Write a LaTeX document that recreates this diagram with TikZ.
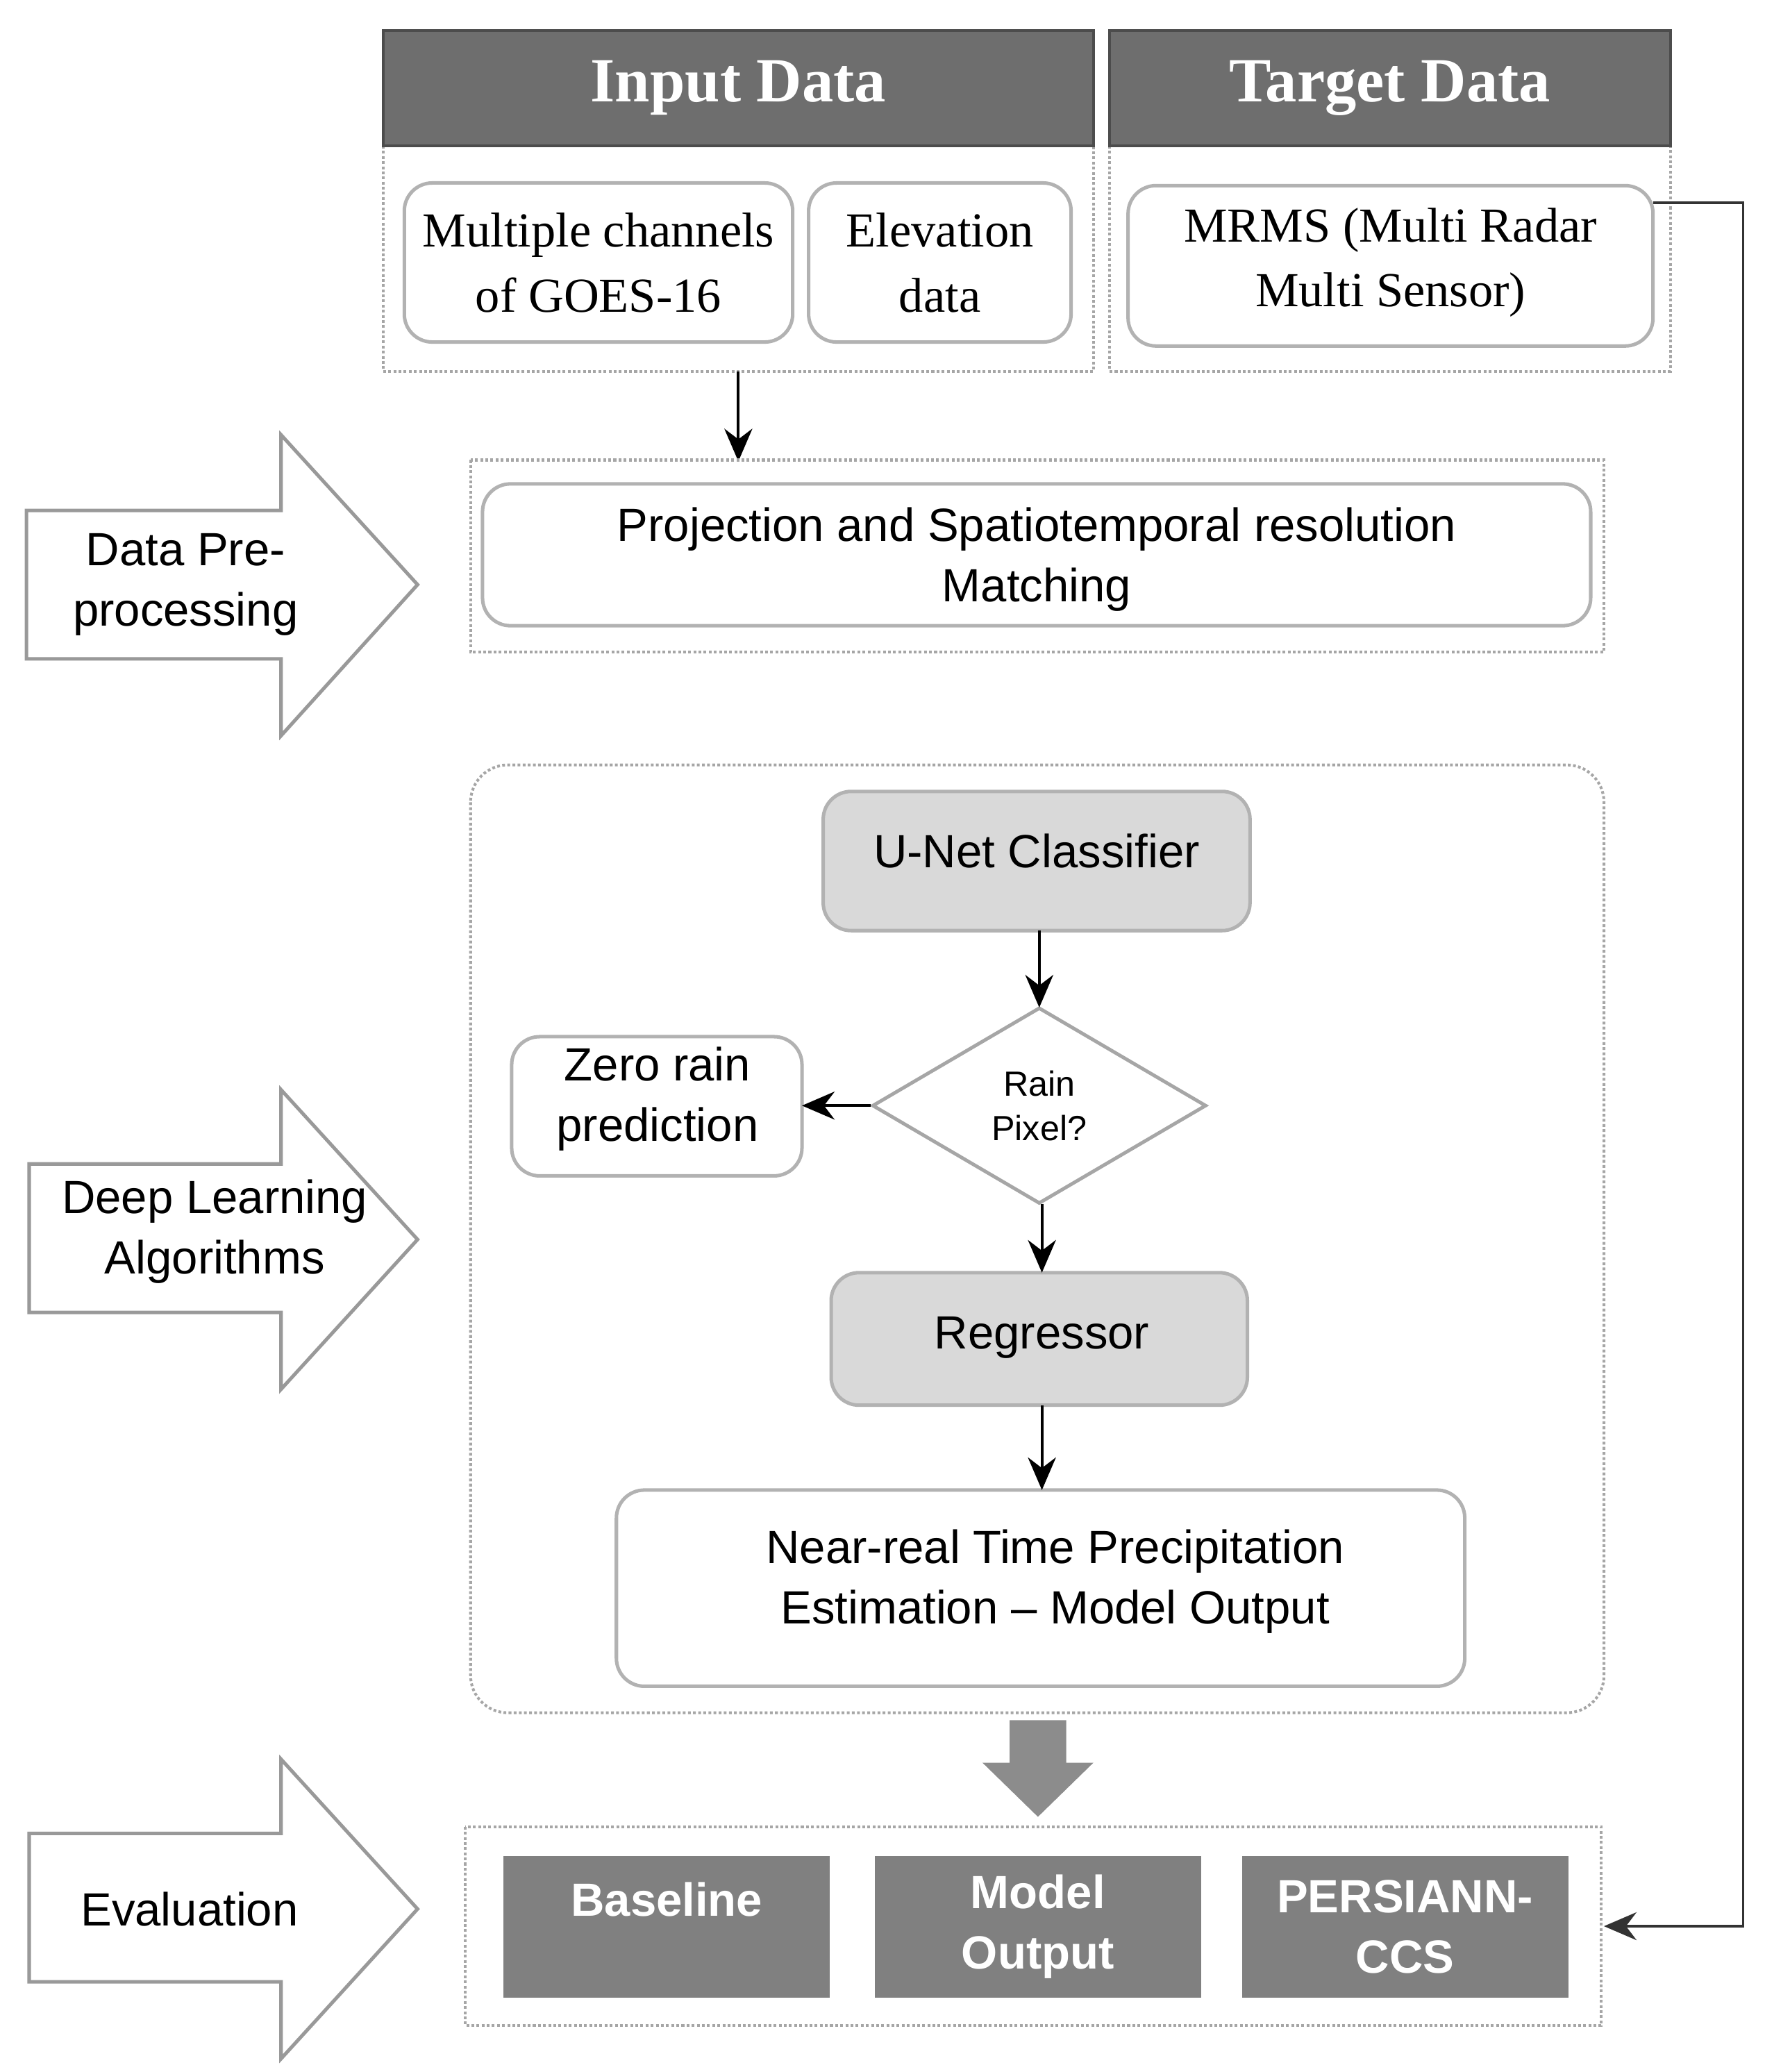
\documentclass[tikz,border=0pt]{standalone}
\usepackage{fontspec}
\setmainfont{Liberation Sans}
\newfontfamily\serif{Liberation Serif}
\usetikzlibrary{shapes.geometric,arrows.meta}
\begin{document}
\begin{tikzpicture}[x=0.02cm,y=-0.02cm,
  dotbox/.style={draw=gray!70,densely dotted,line width=1.2pt},
  rbox/.style={draw=gray!60,rounded corners=12pt,line width=1.5pt,fill=white},
  hdr/.style={draw=black!70,fill=black!57,text=white,line width=1.2pt,font=\serif\bfseries\fontsize{27}{30}\selectfont},
  stxt/.style={font=\serif\fontsize{21}{28}\selectfont,align=center},
  atxt/.style={font=\fontsize{20}{26}\selectfont,align=center},
  gbox/.style={rbox,fill=black!15},
  ebox/.style={fill=black!50,text=white,font=\bfseries\fontsize{20}{26}\selectfont,align=center},
  big/.style={draw=gray!80,line width=1.5pt,fill=white},
  arr/.style={-{Stealth[length=14pt,width=12pt]},line width=1.2pt}]
\useasboundingbox (0,0) rectangle (1331,1563);
% top
\draw[dotbox] (289,110) rectangle (825,280);
\draw[dotbox] (837,110) rectangle (1260,280);
\node[hdr,minimum width=536*0.02cm,minimum height=87*0.02cm] (inp) at (557,66.5) {Input Data};
\node[hdr,minimum width=423*0.02cm,minimum height=87*0.02cm] (tgt) at (1048.5,66.5) {Target Data};
\draw[rbox] (305,138) rectangle (598,258); \node[stxt] (goes) at (451.5,198) {Multiple channels\\of GOES-16};
\draw[rbox] (610,138) rectangle (808,258); \node[stxt] (elev) at (709,198) {Elevation\\data};
\draw[rbox] (851,140) rectangle (1247,261); \node[stxt] (mrms) at (1049,198) {MRMS (Multi Radar\\Multi Sensor)};
\coordinate (a1) at (557,280); \coordinate (a2) at (557,348);
\draw[arr] (a1) -- (a2);
% preprocessing
\draw[dotbox] (355,347) rectangle (1210,492);
\draw[rbox] (364,365) rectangle (1200,472);
\node[atxt] (proj) at (782,422) {Projection and Spatiotemporal resolution\\Matching};
% left arrows
\draw[big] (20,385) -- (212,385) -- (212,328) -- (315,441) -- (212,555) -- (212,497) -- (20,497) -- cycle;
\node[atxt] (pre) at (140,441) {Data Pre-\\processing};
\draw[big] (22,878) -- (212,878) -- (212,822) -- (315,935) -- (212,1048) -- (212,990) -- (22,990) -- cycle;
\node[atxt] (dl) at (162,929) {Deep Learning\\Algorithms};
\draw[big] (22,1383) -- (212,1383) -- (212,1327) -- (315,1440) -- (212,1553) -- (212,1495) -- (22,1495) -- cycle;
\node[atxt] (ev) at (143,1440) {Evaluation};
% DL box
\draw[dotbox,rounded corners=16pt] (355,577) rectangle (1210,1292);
\draw[gbox] (621,597) rectangle (943,702); \node[atxt] (unet) at (782,642) {U-Net Classifier};
\node[diamond,draw=gray!70,line width=1.5pt,minimum width=252*0.02cm,minimum height=148*0.02cm,inner sep=0pt,aspect=1.7] (rain) at (784,834) {};
\node[font=\fontsize{15}{19}\selectfont,align=center] at (784,834) {Rain\\Pixel?};
\draw[rbox] (386,782) rectangle (605,887); \node[atxt] (zero) at (496,829) {Zero rain\\prediction};
\draw[gbox] (627,960) rectangle (941,1060); \node[atxt] (reg) at (786,1009) {Regressor};
\draw[rbox] (465,1124) rectangle (1105,1272); \node[atxt] (nr) at (796,1193) {Near-real Time Precipitation\\Estimation -- Model Output};
\coordinate (u1) at (784,702); \coordinate (u2) at (784,760);
\draw[arr] (u1) -- (u2);
\draw[arr] (rain.west) -- (605,834);
\coordinate (r1) at (786,908); \coordinate (r2) at (786,960);
\draw[arr] (r1) -- (r2);
\coordinate (g1) at (786,1060); \coordinate (g2) at (786,1124);
\draw[arr] (g1) -- (g2);
% gray block arrow
\draw[fill=black!45,draw=black!45] (762,1298) -- (804,1298) -- (804,1330) -- (824,1330) -- (783,1370) -- (742,1330) -- (762,1330) -- cycle;
% evaluation
\draw[dotbox] (351,1378) rectangle (1208,1528);
\node[ebox,minimum width=246*0.02cm,minimum height=107*0.02cm] (base) at (503,1453.5) {};
\node[ebox] at (503,1433) {Baseline};
\node[ebox,minimum width=246*0.02cm,minimum height=107*0.02cm] (mo) at (783,1453.5) {Model\\Output};
\node[ebox,minimum width=246*0.02cm,minimum height=107*0.02cm] (per) at (1060,1453.5) {PERSIANN-\\CCS};
% right connector
\coordinate (m1) at (1247,153); \coordinate (m2) at (1315,153); \coordinate (m3) at (1315,1453); \coordinate (m4) at (1210,1453);
\draw[arr,line width=1pt,black!80] (m1) -- (m2) -- (m3) -- (m4);
\end{tikzpicture}
\end{document}
